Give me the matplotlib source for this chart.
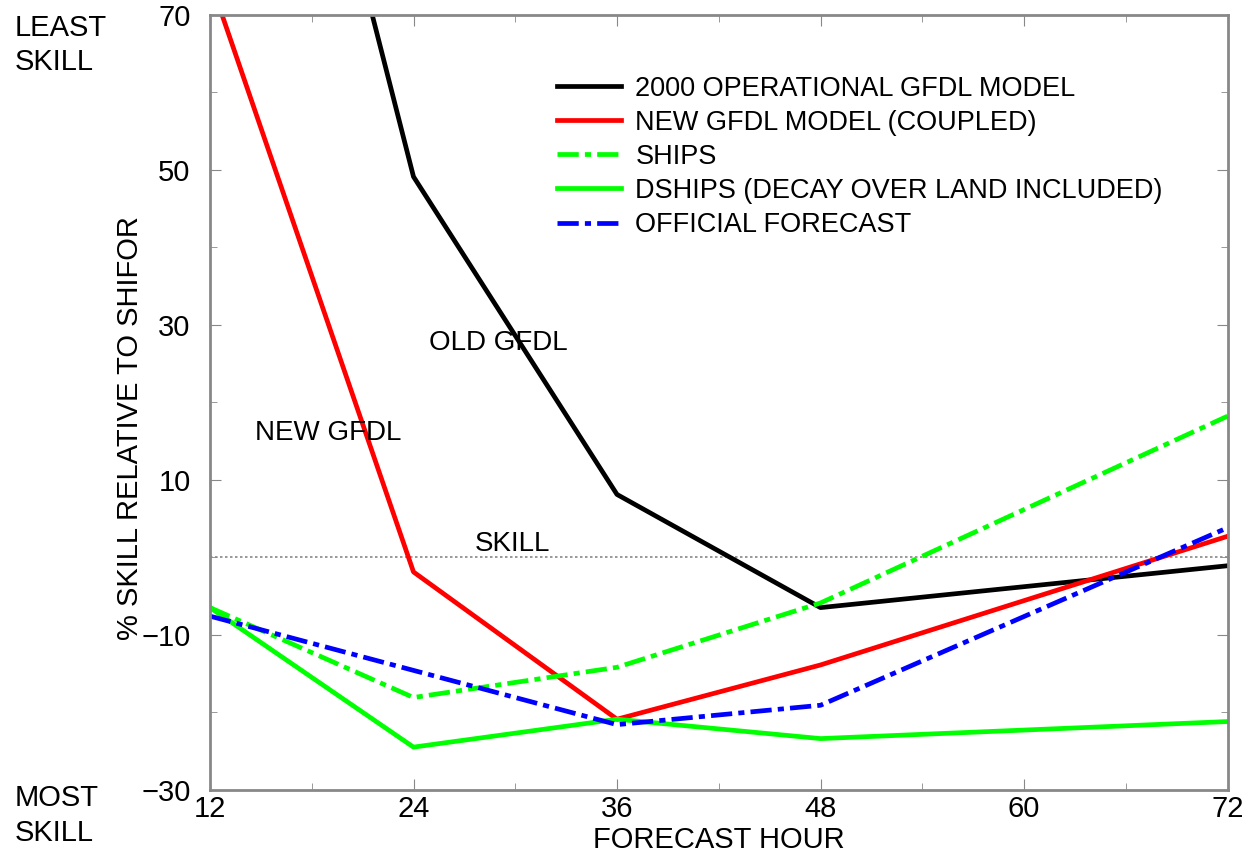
import matplotlib
matplotlib.use('Agg')
import matplotlib.pyplot as plt
from matplotlib.ticker import MultipleLocator

plt.rcParams['font.family'] = ['Liberation Sans', 'DejaVu Sans']

# forecast hours
hours = [12, 24, 36, 48, 72]

# % skill relative to SHIFOR
old_gfdl = [152.0, 49.1, 8.1, -6.5, -1.1]
new_gfdl = [74.5, -1.9, -20.9, -13.9, 2.7]
ships = [-6.5, -18.1, -14.2, -5.9, 18.2]
dships = [-6.5, -24.5, -20.9, -23.4, -21.2]
official = [-7.6, -14.6, -21.6, -19.1, 3.8]

labels = ['2000 OPERATIONAL GFDL MODEL', 'NEW GFDL MODEL (COUPLED)', 'SHIPS',
          'DSHIPS (DECAY OVER LAND INCLUDED)', 'OFFICIAL FORECAST']

fig = plt.figure(figsize=(12.5, 8.65), dpi=100)
fig.patch.set_facecolor('white')
ax = fig.add_axes([0.168, 0.087, 0.814, 0.896])

# no-skill line
ax.axhline(0, color='#888888', lw=1.2, ls=(0, (1.5, 1.5)), zorder=1)

lw = 3.4
ax.plot(hours, old_gfdl, color='black', lw=lw, label=labels[0])
ax.plot(hours, new_gfdl, color='red', lw=lw, label=labels[1])
ax.plot(hours, ships, color='#00ff00', lw=lw, ls=(0, (4.5, 1.3, 1.3, 1.3)), label=labels[2])
ax.plot(hours, dships, color='#00ff00', lw=lw, label=labels[3])
ax.plot(hours, official, color='blue', lw=lw, ls=(0, (4.5, 1.3, 1.3, 1.3)), label=labels[4])

ax.set_xlim(12, 72)
ax.set_ylim(-30, 70)
ax.set_xticks([12, 24, 36, 48, 60, 72])
ax.xaxis.set_minor_locator(MultipleLocator(6))
ax.set_yticks([-30, -10, 10, 30, 50, 70])
ax.set_yticklabels(['\u221230', '\u221210', '10', '30', '50', '70'])
ax.yaxis.set_minor_locator(MultipleLocator(10))
ax.tick_params(which='both', direction='in', top=True, right=True, color='#888888')
ax.tick_params(which='major', length=8, labelsize=21)
ax.tick_params(which='minor', length=5)
ax.tick_params(axis='y', pad=14)
ax.tick_params(axis='x', pad=4)
for s in ax.spines.values():
    s.set_color('#888888')
    s.set_linewidth(2)

ax.set_xlabel('FORECAST HOUR', fontsize=21, labelpad=2)
fig.text(130 / 1250, 1 - 428 / 865, '% SKILL RELATIVE TO SHIFOR', fontsize=21,
         rotation=90, ha='center', va='center')

# annotations
ax.text(24.9, 27.7, 'OLD GFDL', fontsize=20, va='center')
ax.text(14.65, 16.0, 'NEW GFDL', fontsize=20, va='center')
ax.text(27.6, 1.7, 'SKILL', fontsize=20, va='center')

fig.text(0.012, 0.948, 'LEAST\nSKILL', fontsize=21, va='center', linespacing=1.3)
fig.text(0.012, 0.057, 'MOST\nSKILL', fontsize=21, va='center', linespacing=1.3)

leg = ax.legend(loc='upper left', bbox_to_anchor=(0.317, 0.953), frameon=False,
                fontsize=19.5, handlelength=2.35, handletextpad=0.55, labelspacing=0.3)

fig.savefig('out.png', dpi=100)
